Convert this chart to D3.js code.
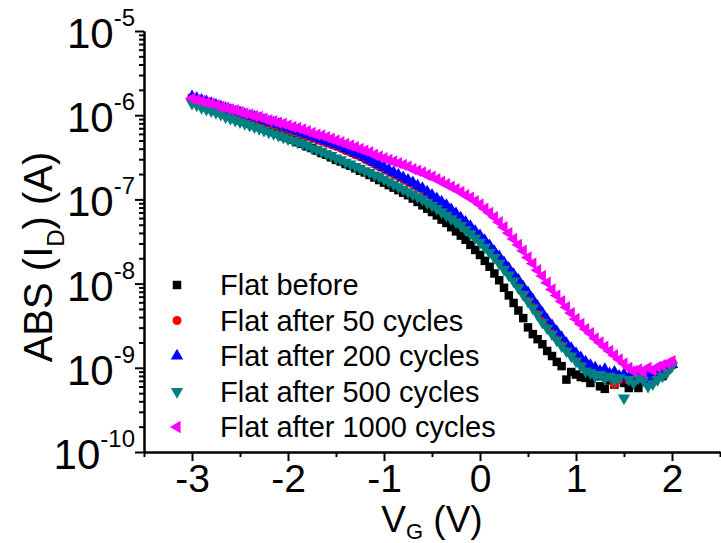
<!DOCTYPE html>
<html>
<head>
<meta charset="utf-8">
<script src="https://cdn.jsdelivr.net/npm/d3@7/dist/d3.min.js"></script>
<style>
  body { margin: 0; background: #fff; }
  text { font-family: Arial, "Liberation Sans", sans-serif; fill: #000; }
</style>
</head>
<body>
<div id="chart"></div>
<script>
// gate voltage sweep (V)
const vg = [
  -3, -2.95, -2.9, -2.85, -2.8, -2.75, -2.7, -2.65, -2.6, -2.55,
  -2.5, -2.45, -2.4, -2.35, -2.3, -2.25, -2.2, -2.15, -2.1, -2.05,
  -2, -1.95, -1.9, -1.85, -1.8, -1.75, -1.7, -1.65, -1.6, -1.55,
  -1.5, -1.45, -1.4, -1.35, -1.3, -1.25, -1.2, -1.15, -1.1, -1.05,
  -1, -0.95, -0.9, -0.85, -0.8, -0.75, -0.7, -0.65, -0.6, -0.55,
  -0.5, -0.45, -0.4, -0.35, -0.3, -0.25, -0.2, -0.15, -0.1, -0.05,
  0, 0.05, 0.1, 0.15, 0.2, 0.25, 0.3, 0.35, 0.4, 0.45,
  0.5, 0.55, 0.6, 0.65, 0.7, 0.75, 0.8, 0.85, 0.9, 0.95,
  1, 1.05, 1.1, 1.15, 1.2, 1.25, 1.3, 1.35, 1.4, 1.45,
  1.5, 1.55, 1.6, 1.65, 1.7, 1.75, 1.8, 1.85, 1.9, 1.95,
  2
];

// log10 of |I_D| in A, one value per vg point
const logI_before = [
  -5.80, -5.83, -5.86, -5.88, -5.91, -5.94, -5.96, -5.99, -6.01, -6.04,
  -6.06, -6.08, -6.10, -6.12, -6.14, -6.16, -6.18, -6.20, -6.22, -6.25,
  -6.27, -6.29, -6.32, -6.34, -6.37, -6.39, -6.42, -6.45, -6.47, -6.50,
  -6.53, -6.55, -6.58, -6.60, -6.63, -6.66, -6.68, -6.71, -6.74, -6.77,
  -6.80, -6.83, -6.86, -6.89, -6.92, -6.95, -6.99, -7.03, -7.07, -7.11,
  -7.15, -7.19, -7.24, -7.28, -7.33, -7.38, -7.43, -7.48, -7.54, -7.60,
  -7.66, -7.73, -7.80, -7.88, -7.96, -8.05, -8.14, -8.23, -8.32, -8.41,
  -8.52, -8.60, -8.66, -8.72, -8.80, -8.86, -8.93, -8.98, -9.14, -9.05,
  -9.08, -9.11, -9.12, -9.18, -9.10, -9.22, -9.25, -9.15, -9.20, -9.12,
  -9.18, -9.24, -9.10, -9.24, -9.15, -9.08, -9.12, -9.05, -9.10, -9.02,
  -8.96
];
const logI_50 = [
  -5.79, -5.81, -5.83, -5.85, -5.87, -5.89, -5.91, -5.93, -5.95, -5.97,
  -5.98, -6.00, -6.02, -6.04, -6.06, -6.08, -6.09, -6.11, -6.13, -6.15,
  -6.17, -6.19, -6.21, -6.23, -6.25, -6.27, -6.29, -6.31, -6.33, -6.35,
  -6.37, -6.39, -6.42, -6.44, -6.47, -6.49, -6.52, -6.55, -6.58, -6.61,
  -6.64, -6.67, -6.70, -6.73, -6.76, -6.79, -6.82, -6.86, -6.89, -6.93,
  -6.97, -7.01, -7.05, -7.09, -7.14, -7.19, -7.24, -7.29, -7.34, -7.40,
  -7.45, -7.51, -7.57, -7.64, -7.70, -7.77, -7.84, -7.91, -7.98, -8.06,
  -8.13, -8.21, -8.29, -8.37, -8.45, -8.52, -8.59, -8.66, -8.73, -8.79,
  -8.85, -8.91, -8.95, -9.00, -9.03, -9.08, -9.12, -9.10, -9.20, -9.14,
  -9.10, -9.15, -9.08, -9.12, -9.10, -9.06, -9.09, -9.02, -9.00, -8.97,
  -8.93
];
const logI_200 = [
  -5.78, -5.80, -5.82, -5.84, -5.86, -5.88, -5.90, -5.92, -5.94, -5.96,
  -5.97, -5.99, -6.01, -6.02, -6.04, -6.06, -6.08, -6.09, -6.11, -6.13,
  -6.15, -6.17, -6.19, -6.21, -6.23, -6.25, -6.27, -6.29, -6.31, -6.33,
  -6.35, -6.37, -6.40, -6.42, -6.45, -6.47, -6.50, -6.53, -6.56, -6.59,
  -6.62, -6.65, -6.68, -6.71, -6.74, -6.77, -6.80, -6.84, -6.87, -6.91,
  -6.95, -6.99, -7.03, -7.07, -7.12, -7.17, -7.22, -7.27, -7.32, -7.38,
  -7.43, -7.49, -7.55, -7.62, -7.68, -7.75, -7.82, -7.89, -7.96, -8.04,
  -8.11, -8.19, -8.27, -8.35, -8.43, -8.50, -8.57, -8.64, -8.71, -8.77,
  -8.83, -8.88, -8.93, -8.97, -9.00, -9.04, -9.02, -9.07, -9.05, -9.10,
  -9.08, -9.12, -9.06, -9.10, -9.14, -9.08, -9.12, -9.05, -9.03, -9.00,
  -8.96
];
const logI_500 = [
  -5.86, -5.88, -5.91, -5.93, -5.95, -5.97, -5.99, -6.02, -6.04, -6.06,
  -6.08, -6.10, -6.12, -6.14, -6.16, -6.18, -6.20, -6.22, -6.24, -6.26,
  -6.28, -6.30, -6.32, -6.34, -6.36, -6.39, -6.41, -6.43, -6.46, -6.48,
  -6.51, -6.53, -6.56, -6.58, -6.61, -6.63, -6.66, -6.68, -6.71, -6.73,
  -6.76, -6.79, -6.82, -6.85, -6.88, -6.91, -6.94, -6.97, -7.00, -7.04,
  -7.07, -7.11, -7.15, -7.19, -7.23, -7.27, -7.31, -7.36, -7.41, -7.46,
  -7.51, -7.57, -7.63, -7.69, -7.76, -7.83, -7.90, -7.97, -8.05, -8.13,
  -8.21, -8.29, -8.37, -8.46, -8.53, -8.60, -8.67, -8.74, -8.80, -8.86,
  -8.92, -8.98, -9.04, -9.06, -9.10, -9.08, -9.13, -9.10, -9.15, -9.12,
  -9.36, -9.14, -9.18, -9.12, -9.15, -9.22, -9.19, -9.14, -9.10, -9.05,
  -8.98
];
const logI_1000 = [
  -5.80, -5.82, -5.83, -5.85, -5.86, -5.88, -5.90, -5.91, -5.93, -5.94,
  -5.96, -5.98, -5.99, -6.01, -6.02, -6.04, -6.06, -6.07, -6.09, -6.10,
  -6.12, -6.14, -6.15, -6.17, -6.19, -6.21, -6.23, -6.24, -6.26, -6.28,
  -6.30, -6.32, -6.34, -6.36, -6.38, -6.40, -6.42, -6.44, -6.47, -6.49,
  -6.51, -6.53, -6.55, -6.57, -6.59, -6.61, -6.64, -6.66, -6.68, -6.71,
  -6.73, -6.76, -6.79, -6.82, -6.85, -6.88, -6.91, -6.95, -6.98, -7.02,
  -7.06, -7.11, -7.16, -7.21, -7.27, -7.33, -7.40, -7.47, -7.54, -7.61,
  -7.69, -7.76, -7.84, -7.91, -7.99, -8.07, -8.14, -8.21, -8.28, -8.35,
  -8.42, -8.48, -8.54, -8.59, -8.65, -8.70, -8.75, -8.80, -8.85, -8.90,
  -8.95, -9.00, -9.04, -9.02, -9.05, -9.00, -9.03, -8.99, -8.97, -8.95,
  -8.92
];

const seriesNames  = ['Flat before', 'Flat after 50 cycles', 'Flat after 200 cycles',
                      'Flat after 500 cycles', 'Flat after 1000 cycles'];
const seriesValues = [logI_before, logI_50, logI_200, logI_500, logI_1000];
const seriesColors = ['#000000', '#ff0000', '#0000ff', '#008080', '#ff00ff'];

const xTicks      = [-3, -2, -1, 0, 1, 2];
const xMinorTicks = [-3.5, -2.5, -1.5, -0.5, 0.5, 1.5, 2.5];
const yDecades    = [-10, -9, -8, -7, -6, -5];
const yMinorMult  = [2, 3, 4, 5, 6, 7, 8, 9];

const W = 721, H = 543;
const M = { left: 144, right: 720, top: 31, bottom: 452 };

const svg = d3.select('#chart').append('svg')
  .attr('width', W).attr('height', H);

const x = d3.scaleLinear().domain([-3.5, 2.5]).range([M.left, M.right]);
const y = d3.scaleLog().domain([1e-10, 1e-5]).range([M.bottom, M.top]);

// marker shapes per series: square, circle, up/down/left triangles
const shapes = [
  { type: d3.symbolSquare,   size: 72, rot: 0 },
  { type: d3.symbolCircle,   size: 64, rot: 0 },
  { type: d3.symbolTriangle, size: 66, rot: 0 },
  { type: d3.symbolTriangle, size: 66, rot: 180 },
  { type: d3.symbolTriangle, size: 66, rot: -90 },
];

// data points
seriesValues.forEach((vals, i) => {
  const sh = shapes[i];
  const path = d3.symbol().type(sh.type).size(sh.size)();
  svg.append('g').selectAll('path')
    .data(vg.map((v, k) => ({ v, I: Math.pow(10, vals[k]) })))
    .join('path')
    .attr('d', path)
    .attr('fill', seriesColors[i])
    .attr('transform', d => `translate(${x(d.v)},${y(d.I)}) rotate(${sh.rot})`);
});

// x axis
const xAxisG = svg.append('g').attr('transform', `translate(0,${M.bottom})`);
xAxisG.append('g')
  .call(d3.axisBottom(x).tickValues(xMinorTicks).tickSize(5).tickSizeOuter(0).tickFormat(''));
xAxisG.append('g')
  .call(d3.axisBottom(x).tickValues(xTicks).tickSize(9).tickSizeOuter(0).tickFormat(d => String(d)))
  .call(g => g.selectAll('text')
    .attr('y', 40).attr('dy', null)
    .style('font-size', '39px'));
xAxisG.selectAll('path, line').attr('stroke', '#000').attr('stroke-width', 2);
xAxisG.selectAll('text').attr('fill', '#000').style('font-family', 'Arial, "Liberation Sans", sans-serif');

// y axis
const minorY = [];
yDecades.slice(0, -1).forEach(e => yMinorMult.forEach(m => minorY.push(m * Math.pow(10, e))));
const yAxisG = svg.append('g').attr('transform', `translate(${M.left},0)`);
yAxisG.append('g')
  .call(d3.axisLeft(y).tickValues(minorY).tickSize(5).tickSizeOuter(0).tickFormat(''));
yAxisG.append('g')
  .call(d3.axisLeft(y).tickValues(yDecades.map(e => Math.pow(10, e))).tickSize(9).tickSizeOuter(0).tickFormat(''));
yAxisG.selectAll('path, line').attr('stroke', '#000').attr('stroke-width', 2);

yDecades.forEach(e => {
  const t = svg.append('text')
    .attr('x', 135).attr('y', y(Math.pow(10, e)) + 17)
    .attr('text-anchor', 'end')
    .style('font-size', '42px')
    .text('10');
  t.append('tspan').attr('dy', -22).style('font-size', '24px').text(String(e));
});

// axis titles
const xt = svg.append('text')
  .attr('x', (M.left + M.right) / 2).attr('y', 532)
  .attr('text-anchor', 'middle')
  .style('font-size', '37px');
xt.append('tspan').text('V');
xt.append('tspan').attr('dy', 7).style('font-size', '22px').text('G');
xt.append('tspan').attr('dy', -7).text(' (V)');

const yt = svg.append('text')
  .attr('transform', 'translate(52,257) rotate(-90)')
  .attr('text-anchor', 'middle')
  .style('font-size', '40px');
yt.append('tspan').text('ABS (I');
yt.append('tspan').attr('dy', 12).style('font-size', '24px').text('D');
yt.append('tspan').attr('dy', -12).text(') (A)');

// legend
const legendY0 = 285, legendStep = 35.5;
const lg = svg.append('g');
seriesNames.forEach((name, i) => {
  const sh = shapes[i];
  const ly = legendY0 + i * legendStep;
  lg.append('path')
    .attr('d', d3.symbol().type(sh.type).size(sh.size)())
    .attr('fill', seriesColors[i])
    .attr('transform', `translate(177,${ly}) rotate(${sh.rot})`);
  lg.append('text')
    .attr('x', 220).attr('y', ly + 10)
    .style('font-size', '29px')
    .text(name);
});
</script>
</body>
</html>
